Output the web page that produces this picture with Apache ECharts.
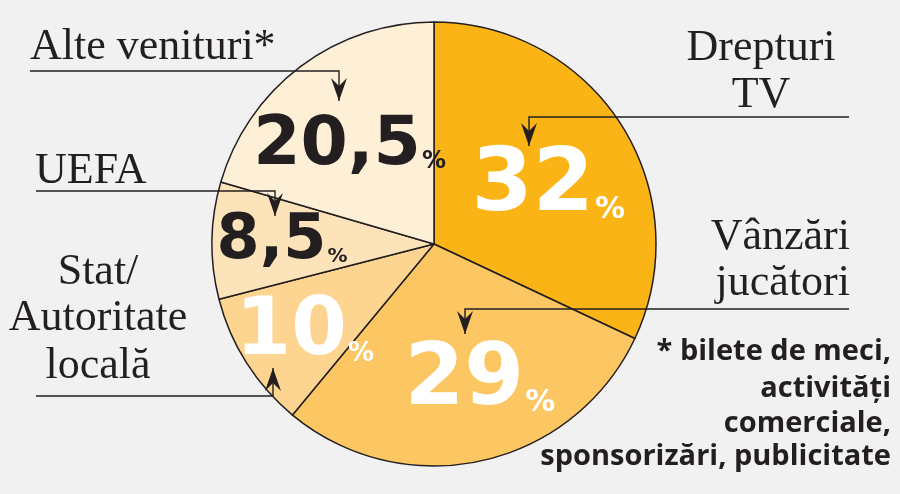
<!DOCTYPE html>
<html>
<head>
<meta charset="utf-8">
<script src="https://cdn.jsdelivr.net/npm/echarts@6/dist/echarts.min.js"></script>
<style>
  html, body { margin: 0; padding: 0; background: #f1f1f1; }
  #chart { width: 900px; height: 494px; }
</style>
</head>
<body>
<div id="chart"></div>
<script>
// date
const categories = ['Drepturi TV', 'Vânzări jucători', 'Stat/Autoritate locală', 'UEFA', 'Alte venituri*'];
const shares = [32, 29, 10, 8.5, 20.5];
const nameLines = [['Drepturi', 'TV'], ['Vânzări', 'jucători'], ['Stat/', 'Autoritate', 'locală'], ['UEFA'], ['Alte venituri*']];
const footnote = ['* bilete de meci,', 'activități', 'comerciale,', 'sponsorizări, publicitate'];

// stil
const sliceColors = ['#fbb416', '#fcc662', '#fdd490', '#fde3b9', '#feefd7'];
const numColors = ['#fff', '#fff', '#fff', '#231f20', '#231f20'];
const numSize = [88, 86, 80, 62, 68];
const pctSize = [30, 30, 26, 20, 24];
const labelOffset = [[18, 4], [21, 26], [-33, 28], [-38, 0], [-16, -7]];

const ink = '#231f20';
const serif = '"Liberation Serif", "DejaVu Serif", serif';
const heavy = '"DejaVu Sans", sans-serif';
const note = '"Open Sans", Lato, sans-serif';

const chart = echarts.init(document.getElementById('chart'));

const pieData = shares.map((v, i) => ({
  name: categories[i],
  value: v,
  itemStyle: { color: sliceColors[i] },
  label: {
    offset: labelOffset[i],
    rich: {
      n: { fontFamily: heavy, fontWeight: 'bold', fontSize: numSize[i], lineHeight: numSize[i], color: numColors[i] },
      p: { fontFamily: heavy, fontWeight: 'bold', fontSize: pctSize[i], lineHeight: pctSize[i], color: numColors[i], verticalAlign: 'bottom', padding: [0, 0, 6, 1] }
    }
  }
}));

// nume + sageti (adnotari)
const g = [];
// y = linia de baza; 'middle' pus la baza - k*marime
function txt(s, x, y, size, align, font, weight, k) {
  g.push({ type: 'text', silent: true, z: 100, style: {
    text: s, x: x, y: y - k * size, fontFamily: font, fontSize: size, fontWeight: weight,
    fill: ink, align: align, verticalAlign: 'middle'
  }});
}
function leader(points, down) {
  g.push({ type: 'polyline', silent: true, z: 100, shape: { points: points }, style: { stroke: ink, lineWidth: 1.4, fill: null } });
  const t = points[points.length - 1];
  const d = down ? -1 : 1;
  g.push({ type: 'polygon', silent: true, z: 101, shape: { points: [
    [t[0], t[1]], [t[0] - 8, t[1] + d * 23], [t[0], t[1] + d * 15], [t[0] + 8, t[1] + d * 23]
  ]}, style: { fill: ink } });
}

const ns = 44, nk = 0.34;
txt(nameLines[0][0], 761, 63, ns, 'center', serif, 'normal', nk);
txt(nameLines[0][1], 761, 110, ns, 'center', serif, 'normal', nk);
leader([[849, 117], [529, 117], [529, 146]], true);

txt(nameLines[1][0], 850, 252, ns, 'right', serif, 'normal', nk);
txt(nameLines[1][1], 850, 298, ns, 'right', serif, 'normal', nk);
leader([[849, 309], [465, 309], [465, 334]], true);

txt(nameLines[2][0], 98, 287, ns, 'center', serif, 'normal', nk);
txt(nameLines[2][1], 98, 333, ns, 'center', serif, 'normal', nk);
txt(nameLines[2][2], 98, 381, ns, 'center', serif, 'normal', nk);
leader([[36, 396], [273, 396], [273, 368]], false);

txt(nameLines[3][0], 35, 186, ns, 'left', serif, 'normal', nk);
leader([[36, 191], [275, 191], [275, 216]], true);

txt(nameLines[4][0], 30, 62, ns, 'left', serif, 'normal', nk);
leader([[30, 71], [339, 71], [339, 101]], true);

const fnY = [363, 400, 435, 468];
footnote.forEach((s, i) => txt(s, 891, fnY[i], 29, 'right', note, 'bold', 0.38));

chart.setOption({
  backgroundColor: '#f1f1f1',
  animation: false,
  graphic: g,
  series: [{
    type: 'pie',
    center: [434, 244],
    radius: 222,
    startAngle: 90,
    clockwise: true,
    avoidLabelOverlap: false,
    silent: true,
    itemStyle: { borderColor: ink, borderWidth: 1.5 },
    label: {
      show: true,
      position: 'inside',
      formatter: p => '{n|' + String(p.value).replace('.', ',') + '}{p|%}'
    },
    labelLine: { show: false },
    data: pieData
  }]
});
</script>
</body>
</html>
